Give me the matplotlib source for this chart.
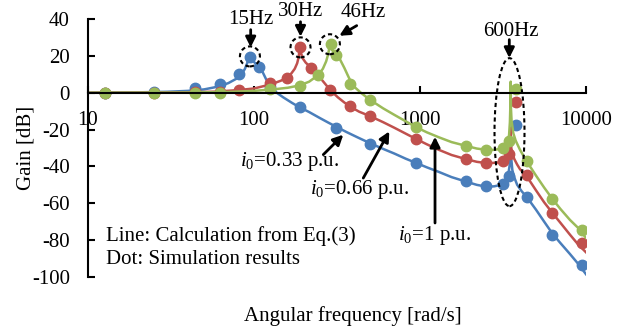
import numpy as np
import matplotlib
matplotlib.use('Agg')
import matplotlib.pyplot as plt
from matplotlib.patches import Ellipse

plt.rcParams['font.family'] = 'Liberation Serif'
plt.rcParams['mathtext.fontset'] = 'custom'
plt.rcParams['mathtext.rm'] = 'Liberation Serif'
plt.rcParams['mathtext.it'] = 'Liberation Serif:italic'
plt.rcParams['axes.unicode_minus'] = False

# calculated curves, omega [rad/s] and gain [dB]
w_line_033 = [10, 20, 30, 40, 50, 60, 70, 78, 84, 88, 91, 93, 94.5, 96, 99, 104, 109, 113, 118, 124,
              130, 137, 150, 170, 189, 215, 250, 280, 315, 360, 420, 503, 600, 700, 820, 942, 1100,
              1300, 1550, 1885, 2200, 2513, 2800, 3000, 3142, 3300, 3400, 3460, 3500, 3519, 3540,
              3600, 3700, 3850, 4100, 4398, 5000, 5600, 6283, 7000, 8000, 9000, 10000]
g_line_033 = [0, 0.2, 0.5, 1.0, 1.8, 3.2, 5.2, 7.5, 10, 12.8, 16, 19, 21.5, 19.5, 17, 15.3, 13.7, 11,
              7.5, 4.5, 2.5, 0, -2.5, -5.6, -8, -10.5, -13.8, -16.2, -18.6, -21.3, -24.2, -27.5, -30.5,
              -33, -35.8, -38, -40.5, -43, -45.8, -48.2, -50, -51, -50.8, -50.2, -49.4, -47.5, -44.5,
              -40, -34, -27, -35, -42, -46, -50, -53.5, -56.6, -63.5, -70, -76.5, -81.5, -87.5, -93,
              -98.5]

w_line_066 = [10, 40, 60, 82, 100, 126, 145, 157, 168, 176, 182, 186, 189, 192, 197, 205, 222, 240,
              260, 287, 320, 350, 377, 430, 503, 600, 700, 820, 942, 1100, 1300, 1550, 1885, 2200,
              2513, 2900, 3175, 3350, 3430, 3480, 3519, 3545, 3600, 3700, 3850, 4004, 4398, 5000,
              5600, 6283, 7000, 8000, 9000, 10000]
g_line_066 = [0, 0.2, 0.6, 1.5, 2.3, 4.5, 6.5, 8, 10.5, 13, 16, 19.5, 26, 21.5, 18.5, 16.3, 13.4, 10,
              6.3, 1.6, -2.5, -5.3, -7.4, -10.3, -12.8, -16, -19, -22.2, -25, -28, -31, -33.8, -36,
              -37.5, -38.2, -38, -37, -34.5, -31, -26, -19, -30, -33, -36, -39, -41.5, -45.4, -53,
              -59.5, -65.3, -70.5, -77, -82.5, -86.6]

w_line_1 = [10, 40, 70, 100, 130, 160, 189, 215, 243, 260, 272, 280, 285, 287, 290, 296, 305, 315,
            330, 350, 370, 388, 410, 440, 470, 503, 600, 700, 820, 942, 1100, 1300, 1550, 1885, 2200,
            2513, 2800, 3034, 3251, 3380, 3440, 3480, 3505, 3519, 3530, 3560, 3650, 3770, 4004, 4398,
            5000, 5600, 6283, 7000, 8000, 9000, 10000]
g_line_1 = [0, 0.1, 0.4, 1.0, 1.8, 2.7, 4.0, 6, 9.5, 13, 17, 21, 25, 28, 25, 23, 22, 21, 18, 13.5,
            8.8, 5, 2.5, 0, -2, -4, -8.5, -12, -15.5, -18.6, -21.5, -24.2, -26.8, -28.8, -30.3, -31,
            -31, -30.5, -29, -26.5, -23, -16, -6, 6, -8, -15, -22, -26, -31, -37.3, -45, -51.5, -57.7,
            -63, -69, -73.5, -78.8]

# simulation results (dots)
w_dot_033 = [12.6, 25.1, 44, 62.8, 81.7, 94.2, 106.8, 125.7, 188.5, 314, 503, 942, 1885, 2513, 3142,
             3456, 3770, 4398, 6283, 9425]
g_dot_033 = [0, 0.2, 2.5, 4.9, 10.1, 19.2, 13.9, 3, -7.8, -18.9, -28, -38.2, -48.1, -50.8, -49.4,
             -45.4, -17.4, -56.6, -77, -93.3]

w_dot_066 = [12.6, 25.1, 44, 62.8, 81.7, 125.7, 157, 188.5, 222, 287, 377, 503, 942, 1885, 2513, 3142,
             3456, 3770, 4398, 6283, 9425]
g_dot_066 = [0, 0, 0.2, 0.5, 1.6, 5.1, 8, 24.7, 13.4, 1.3, -7.4, -12.8, -25.2, -36.2, -38.1, -37.3,
             -33.1, -5.2, -44.9, -65.3, -81.6]

w_dot_1 = [12.6, 25.1, 44, 62.8, 125.7, 188.5, 243, 289, 314, 380, 503, 942, 1885, 2513, 3142, 3456,
           3770, 4398, 6283, 9425]
g_dot_1 = [0, 0, 0, 0.1, 2.1, 3.9, 9.8, 26.5, 20.5, 4.9, -3.8, -18.6, -28.8, -31.3, -30, -26,
           2, -37.3, -57.7, -74.3]

x_ticks = [10, 100, 1000, 10000]
x_tick_labels = ['10', '100', '1000', '10000']
y_ticks = [-100, -80, -60, -40, -20, 0, 20, 40]

blue = '#4A7EBB'
red = '#C0504D'
green = '#9BBB59'

fig = plt.figure(figsize=(6.38, 3.33), dpi=100)
ax = fig.add_axes([88 / 638, 1 - 277 / 333, 498 / 638, 258 / 333])

for w, g, wd, gd, c in [(w_line_033, g_line_033, w_dot_033, g_dot_033, blue),
                        (w_line_066, g_line_066, w_dot_066, g_dot_066, red),
                        (w_line_1, g_line_1, w_dot_1, g_dot_1, green)]:
    ax.plot(w, g, color=c, lw=1.8)
    ax.plot(wd, gd, 'o', color=c, ms=7.5)

ax.set_xscale('log')
ax.set_xlim(10, 10000)
ax.set_ylim(-100, 40)
ax.set_xticks(x_ticks)
ax.set_xticklabels(x_tick_labels)
ax.xaxis.set_minor_locator(matplotlib.ticker.NullLocator())
ax.set_yticks(y_ticks)

ax.spines['bottom'].set_position(('data', 0))
ax.spines['top'].set_visible(False)
ax.spines['right'].set_visible(False)
for s in ['bottom', 'left']:
    ax.spines[s].set_linewidth(1.5)
ax.tick_params(axis='both', direction='in', length=5, width=1.5, labelsize=15)
ax.tick_params(axis='y', pad=13)
ax.tick_params(axis='x', pad=13)

ax.set_xlabel('Angular frequency [rad/s]', fontsize=15, va='center')
ax.xaxis.set_label_coords(0.532, -0.152)
ax.set_ylabel('Gain [dB]', fontsize=15, va='center')
ax.yaxis.set_label_coords(-0.125, 0.5)


def ring(x, y, wpx, hpx):
    fx = (np.log10(x) - 1) / 3
    fy = (y + 100) / 140
    ax.add_patch(Ellipse((fx, fy), wpx / 498, hpx / 258, transform=ax.transAxes, fill=False,
                         ec='k', lw=1.5, ls=(0, (2, 1.5)), clip_on=False, zorder=5))


def arrow(tail, tip):
    ax.annotate('', xy=tip, xytext=tail,
                arrowprops=dict(arrowstyle='-|>,head_length=0.6,head_width=0.3', color='k', lw=2,
                                shrinkA=0, shrinkB=0), zorder=6)


# resonance markers
ax.text(95.5, 39.6, '15Hz', fontsize=15, ha='center', va='center')
arrow((95.5, 34.2), (95.5, 24.6))
ring(94.5, 19.7, 20, 20)

ax.text(191.8, 44, '30Hz', fontsize=15, ha='center', va='center')
arrow((190.6, 38.5), (190.6, 30.4))
ring(190.6, 24.6, 20, 20)

ax.text(453.9, 43.4, '46Hz', fontsize=15, ha='center', va='center')
arrow((415.6, 36.4), (326.6, 30.9))
ring(286.5, 26.3, 20, 20)

ax.text(3532, 33.1, '600Hz', fontsize=15, ha='center', va='center')
arrow((3451, 28.8), (3451, 18.8))
ring(3461, -21.4, 30, 148)

# current labels
ax.text(82.4, -37.4, r'$i_0$=0.33 p.u.', fontsize=15, ha='left', va='center')
arrow((261.5, -33.6), (345, -22.8))
ax.text(217.5, -52.6, r'$i_0$=0.66 p.u.', fontsize=15, ha='left', va='center')
arrow((455.3, -46.3), (653.3, -21))
ax.text(737, -77.6, r'$i_0$=1 p.u.', fontsize=15, ha='left', va='center')
arrow((1231.6, -70.7), (1231.6, -23.9))

ax.text(12.8, -77.6, 'Line: Calculation from Eq.(3)', fontsize=15, ha='left', va='center')
ax.text(12.8, -90.6, 'Dot: Simulation results', fontsize=15, ha='left', va='center')

fig.savefig('out.png', dpi=100)
